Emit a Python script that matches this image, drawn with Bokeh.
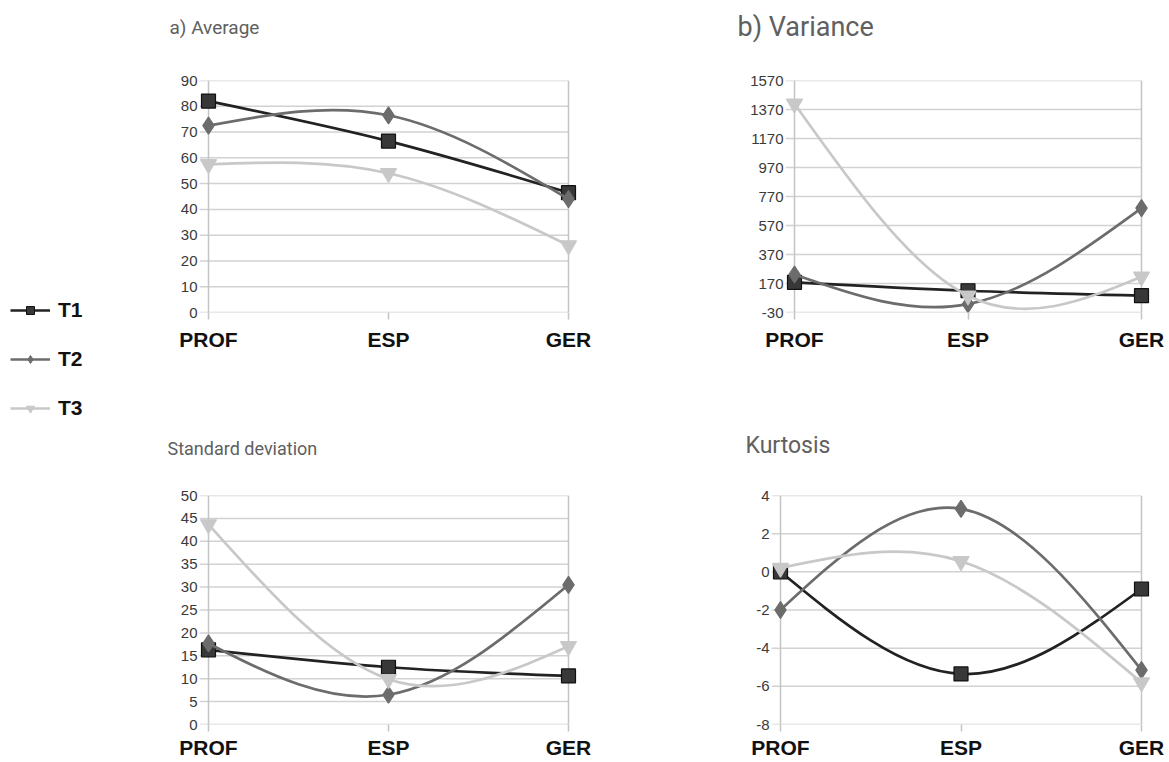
import numpy as np
from bokeh.plotting import figure
from bokeh.models import Range1d, FixedTicker, Legend, LegendItem
from bokeh.core.properties import value
from bokeh.layouts import row, column
from bokeh.embed import file_html
from bokeh.resources import INLINE

# ---------------- data ----------------
categories = ["PROF", "ESP", "GER"]
series_names = ["T1", "T2", "T3"]

average_T1 = [82.0, 66.5, 46.5]
average_T2 = [72.5, 76.5, 44.0]
average_T3 = [57.5, 54.0, 26.0]

variance_T1 = [178, 120, 86]
variance_T2 = [232, 28, 690]
variance_T3 = [1410, 86, 217]

std_T1 = [16.3, 12.5, 10.6]
std_T2 = [17.7, 6.5, 30.5]
std_T3 = [43.7, 9.9, 17.1]

kurt_T1 = [0.0, -5.35, -0.9]
kurt_T2 = [-2.0, 3.3, -5.15]
kurt_T3 = [0.2, 0.55, -5.8]

average_ticks = [0, 10, 20, 30, 40, 50, 60, 70, 80, 90]
variance_ticks = [-30, 170, 370, 570, 770, 970, 1170, 1370, 1570]
std_ticks = [0, 5, 10, 15, 20, 25, 30, 35, 40, 45, 50]
kurt_ticks = [-8, -6, -4, -2, 0, 2, 4]

titles_top = ["a) Average", "b) Variance"]
titles_bottom = ["Standard deviation", "Kurtosis"]

# ---------------- styles ----------------
STY = {
    "T1": dict(line="#222222", fill="#383838", outline="#111111", marker="square", size=14),
    "T2": dict(line="#6c6c6c", fill="#6c6c6c", outline="#6c6c6c", marker="diamond", size=17),
    "T3": dict(line="#c8c8c8", fill="#c8c8c8", outline="#c8c8c8", marker="inverted_triangle", size=16),
}
GRID = "#d2d2d2"
AXIS = "#c4c4c4"
TICK_FONT = "Liberation Sans"
TITLE_FONT = "Roboto"
TITLE_COLOR = "#606060"
PAD_L, PAD_R = 9, 10


def natural_spline_bezier(xs, ys):
    """Bezier control points of a natural cubic spline through the points."""
    xs = np.asarray(xs, float)
    ys = np.asarray(ys, float)
    n = len(xs)
    h = np.diff(xs)
    A = np.zeros((n, n))
    b = np.zeros(n)
    A[0, 0] = 1
    A[-1, -1] = 1
    for i in range(1, n - 1):
        A[i, i - 1] = h[i - 1]
        A[i, i] = 2 * (h[i - 1] + h[i])
        A[i, i + 1] = h[i]
        b[i] = 6 * ((ys[i + 1] - ys[i]) / h[i] - (ys[i] - ys[i - 1]) / h[i - 1])
    M = np.linalg.solve(A, b)
    out = dict(x0=[], y0=[], x1=[], y1=[], cx0=[], cy0=[], cx1=[], cy1=[])
    for i in range(n - 1):
        d = (ys[i + 1] - ys[i]) / h[i]
        ms = d - h[i] * (2 * M[i] + M[i + 1]) / 6
        me = d + h[i] * (M[i] + 2 * M[i + 1]) / 6
        out["x0"].append(xs[i]); out["y0"].append(ys[i])
        out["x1"].append(xs[i + 1]); out["y1"].append(ys[i + 1])
        out["cx0"].append(xs[i] + h[i] / 3); out["cy0"].append(ys[i] + ms * h[i] / 3)
        out["cx1"].append(xs[i + 1] - h[i] / 3); out["cy1"].append(ys[i + 1] - me * h[i] / 3)
    return out


def make_panel(data, ticks, fig_x, fig_y, width, height,
               axis_px, right_px, top_px, bottom_px, label_standoff):
    n = len(categories)
    scale = (right_px - axis_px) / (n - 1)
    bl = axis_px - PAD_L - fig_x
    br = fig_x + width - (right_px + PAD_R)
    bt = top_px - fig_y
    bb = fig_y + height - bottom_px
    p = figure(width=width, height=height,
               x_range=Range1d(-PAD_L / scale, (n - 1) + PAD_R / scale),
               y_range=Range1d(ticks[0], ticks[-1]),
               output_backend="svg", toolbar_location=None,
               min_border_left=bl, min_border_right=br,
               min_border_top=bt, min_border_bottom=bb)
    p.background_fill_color = "white"
    p.border_fill_color = "white"
    p.outline_line_color = None
    p.grid.visible = False

    # x axis (categories)
    p.xaxis.ticker = FixedTicker(ticks=list(range(n)))
    p.xaxis.major_label_overrides = {i: c for i, c in enumerate(categories)}
    p.xaxis.major_label_text_font = TICK_FONT
    p.xaxis.major_label_text_font_size = "21px"
    p.xaxis.major_label_text_font_style = "bold"
    p.xaxis.major_label_text_color = "#111111"
    p.xaxis.major_label_standoff = label_standoff
    p.xaxis.major_tick_out = 7
    p.xaxis.major_tick_in = 0
    p.xaxis.minor_tick_line_color = None
    p.xaxis.axis_line_color = None
    p.xaxis.major_tick_line_color = AXIS
    p.xaxis.major_tick_line_width = 1.5

    # y axis (labels only; the ticks are the grid stubs)
    p.yaxis.ticker = FixedTicker(ticks=ticks)
    p.yaxis.major_label_overrides = {t: str(t) for t in ticks}
    p.yaxis.major_label_text_font = TICK_FONT
    p.yaxis.major_label_text_font_size = "15px"
    p.yaxis.major_label_text_color = "#3a3a3a"
    p.yaxis.major_label_standoff = 2
    p.yaxis.major_tick_out = 0
    p.yaxis.major_tick_in = 0
    p.yaxis.minor_tick_line_color = None
    p.yaxis.axis_line_color = None
    p.yaxis.major_tick_line_color = None

    # horizontal grid lines (with stubs left of the axis) and vertical borders
    x_start = p.x_range.start
    p.segment(x0=[x_start] * len(ticks), y0=ticks, x1=[n - 1] * len(ticks), y1=ticks,
              line_color=GRID, line_width=1.5)
    p.segment(x0=[0, n - 1], y0=[ticks[0]] * 2, x1=[0, n - 1], y1=[ticks[-1]] * 2,
              line_color=AXIS, line_width=1.5)

    xs = list(range(n))
    for name, ys in zip(series_names, data):
        s = STY[name]
        bz = natural_spline_bezier(xs, ys)
        p.bezier(line_color=s["line"], line_width=2.7, **bz)
        p.scatter(xs, ys, marker=s["marker"], size=s["size"],
                  fill_color=s["fill"], line_color=s["outline"], line_width=1.2)
    return p


def make_band(width, height, texts, xs, centers, sizes):
    b = figure(width=width, height=height, x_range=Range1d(0, width),
               y_range=Range1d(height, 0), output_backend="svg",
               toolbar_location=None, x_axis_location=None, y_axis_location=None,
               min_border=0)
    b.grid.visible = False
    b.outline_line_color = None
    for t, x, y, s in zip(texts, xs, centers, sizes):
        b.text(x=[x], y=[y], text=[t], text_font=value(TITLE_FONT),
               text_font_size=f"{s}px", text_color=TITLE_COLOR,
               text_baseline="middle", text_align="left")
    return b


TOP_BAND, BOT_BAND = 48, 47
ROW1_H, ROW2_H = 372, 295

band_top = make_band(1019, TOP_BAND, titles_top, [19, 587], [27, 26], [19, 27])
y1 = TOP_BAND
p_avg = make_panel([average_T1, average_T2, average_T3], average_ticks,
                   150, y1, 550, ROW1_H, 208, 568, 80, 312, 8)
p_var = make_panel([variance_T1, variance_T2, variance_T3], variance_ticks,
                   700, y1, 469, ROW1_H, 794, 1141, 80, 312, 8)
band_bot = make_band(1019, BOT_BAND, titles_bottom, [17, 595], [28, 25], [18, 23])
y2 = TOP_BAND + ROW1_H + BOT_BAND
p_std = make_panel([std_T1, std_T2, std_T3], std_ticks,
                   150, y2, 550, ROW2_H, 208, 568, 495, 724, 4)
p_kur = make_panel([kurt_T1, kurt_T2, kurt_T3], kurt_ticks,
                   700, y2, 469, ROW2_H, 780, 1141, 495, 724, 4)

# ---------------- legend column ----------------
pl = figure(width=150, height=762, x_range=Range1d(0, 1), y_range=Range1d(0, 1),
            output_backend="svg", toolbar_location=None,
            x_axis_location=None, y_axis_location=None,
            min_border=0)
pl.grid.visible = False
pl.outline_line_color = None
items = []
for name in series_names:
    s = STY[name]
    lr = pl.line([5, 6], [5, 6], line_color=s["line"], line_width=2.7)
    sr = pl.scatter([5], [5], marker=s["marker"], size=s["size"],
                    fill_color=s["fill"], line_color=s["outline"])
    items.append(LegendItem(label=name, renderers=[lr, sr]))
legend = Legend(items=items, location=(10, 342),
                glyph_width=40, glyph_height=20, label_height=20,
                spacing=25, padding=0, margin=0, label_standoff=8,
                label_text_font=TICK_FONT, label_text_font_size="21px",
                label_text_font_style="bold", label_text_color="#111111",
                background_fill_alpha=0, border_line_color=None)
pl.add_layout(legend)

layout = row(pl, column(band_top, row(p_avg, p_var), band_bot, row(p_std, p_kur)))

open("out.html", "w").write(file_html(layout, INLINE))
